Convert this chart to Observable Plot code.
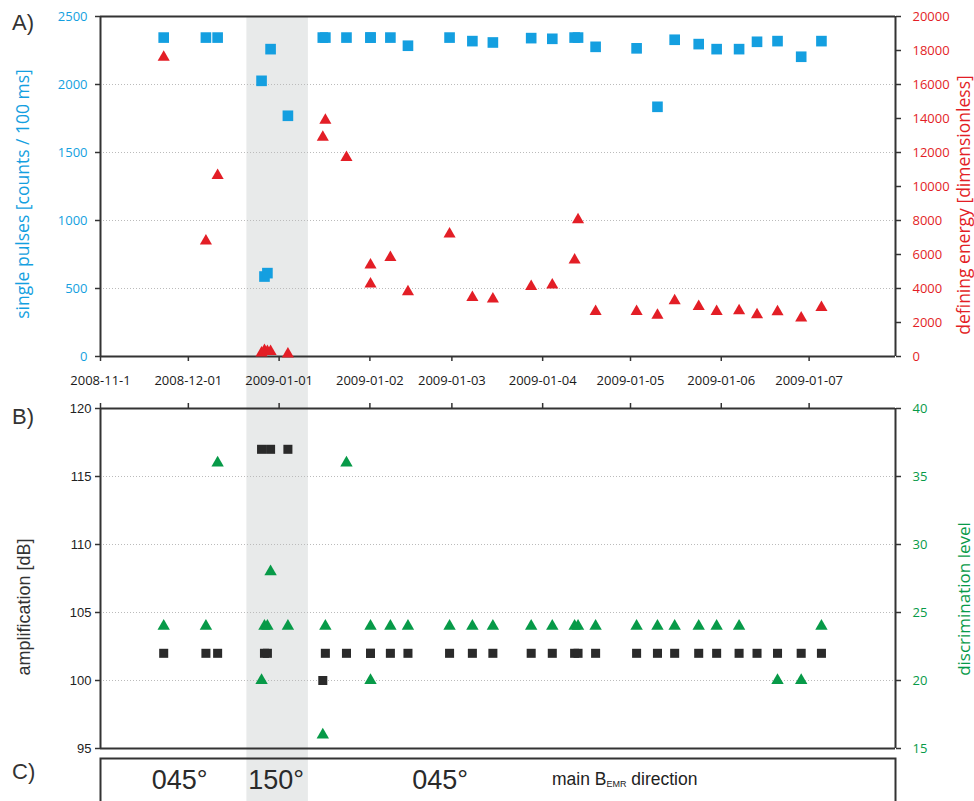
<!DOCTYPE html>
<html><head><meta charset="utf-8">
<script src="https://cdn.jsdelivr.net/npm/d3@7"></script>
<script src="https://cdn.jsdelivr.net/npm/@observablehq/plot@0.6"></script>
<style>
body{margin:0;background:#fff;}
#wrap{position:relative;width:974px;height:801px;overflow:hidden;background:#fff;}
#wrap svg{position:absolute;left:0;}
.lab{position:absolute;white-space:nowrap;line-height:1;}
.rot{transform:translate(-50%,-50%) rotate(-90deg);}
.panel{font-family:'Liberation Sans',Arial,sans-serif;font-size:22px;color:#333;left:12px;}
</style></head><body><div id="wrap"></div>
<script>
// ---- data ----
const measureDates = [
  "2008-11-22T14:00Z","2008-12-07T00:00Z","2008-12-11T00:00Z","2008-12-26T00:00Z","2008-12-27T00:00Z",
  "2008-12-28T00:00Z","2008-12-29T02:00Z","2009-01-04T00:00Z","2009-01-15T22:00Z","2009-01-16T19:00Z",
  "2009-01-24T00:00Z","2009-02-01T05:00Z","2009-02-01T05:00Z","2009-02-08T00:00Z","2009-02-14T00:00Z",
  "2009-02-28T05:00Z","2009-03-08T00:00Z","2009-03-15T00:00Z","2009-03-28T02:00Z","2009-04-04T07:00Z",
  "2009-04-11T22:00Z","2009-04-13T02:00Z","2009-04-19T02:00Z","2009-05-03T02:00Z","2009-05-10T05:00Z",
  "2009-05-16T02:00Z","2009-05-24T07:00Z","2009-05-30T10:00Z","2009-06-07T02:00Z","2009-06-13T05:00Z",
  "2009-06-20T05:00Z","2009-06-28T07:00Z","2009-07-05T05:00Z"];
const singlePulses = [2345,2345,2345,2027,588,613,2260,1770,2345,2345,2345,2345,2345,2345,2285,2345,2319,2309,2341,2336,2345,2345,2277,2266,1836,2329,2297,2260,2260,2314,2319,2204,2319];
const definingEnergy = [17600,6800,10650,200,350,300,300,150,12900,13900,11700,5380,4260,5820,3810,7200,3470,3380,4120,4200,5670,8040,2650,2650,2430,3280,2940,2650,2690,2450,2630,2260,2880];
const amplification = [102,102,102,117,102,102,117,117,100,102,102,102,102,102,102,102,102,102,102,102,102,102,102,102,102,102,102,102,102,102,102,102,102];
const discrimination = [24,24,36,20,24,24,28,24,16,24,36,24,20,24,24,24,24,24,24,24,24,24,24,24,24,24,24,24,24,null,20,20,24];

const monthTicks = ["2008-11-01","2008-12-01","2009-01-01","2009-02-01","2009-03-01","2009-04-01","2009-05-01","2009-06-01","2009-07-01"];
const monthLabels = ["2008-11-1","2008-12-01","2009-01-01","2009-01-02","2009-01-03","2009-01-04","2009-01-05","2009-01-06","2009-01-07"];
const pulsesTicks = [0,500,1000,1500,2000,2500];
const energyTicks = [0,2000,4000,6000,8000,10000,12000,14000,16000,18000,20000];
const ampTicks = [95,100,105,110,115,120];
const discTicks = [15,20,25,30,35,40];
const bandPeriod = ["2008-12-21","2009-01-11"];
const directionLabels = ["045°","150°","045°"];
const directionDates = ["2008-11-28","2008-12-31","2009-02-25"];

// ---- build ----
const BLUE="#149fe0", RED="#e31e26", GREEN="#079a48", BLACK="#2a2a2a", AX="#333";
const rows = measureDates.map((d,i)=>({date:new Date(d), pulses:singlePulses[i], energy:definingEnergy[i], amp:amplification[i], disc:discrimination[i]}));
const tickDates = monthTicks.map(d=>new Date(d));
const fmt = d => monthLabels[tickDates.findIndex(t=>+t===+d)] ?? "";
const num = d => String(d);
const xDomain = [new Date("2008-11-01"), new Date("2009-07-30T12:00Z")];
const X = {type:"utc", domain:xDomain, axis:null};
const common = {width:974, marginLeft:100, marginRight:79};
const st = (font)=>({background:"transparent", fontFamily:font, fontSize:"13px", overflow:"visible"});
const OS = "'Open Sans', sans-serif", LS = "'Liberation Sans', Arial, sans-serif";
const wrap = document.getElementById("wrap");
function add(svg, top){ svg.style.top = top+"px"; wrap.appendChild(svg); }

// shaded band (background)
add(Plot.plot({...common, height:801, marginTop:16, marginBottom:0, x:X, y:{axis:null},
  style:st(OS),
  marks:[Plot.rect([bandPeriod], {x1:d=>new Date(d[0]), x2:d=>new Date(d[1]), fill:"#e8eaea"})]}), 0);

// Panel A - left scale
add(Plot.plot({...common, height:400, marginTop:16, marginBottom:44, x:X, y:{domain:[0,2500], axis:null},
  style:st(OS),
  marks:[
    Plot.ruleY(pulsesTicks.slice(1,-1), {stroke:"#bbb", strokeDasharray:"1,2"}),
    Plot.axisY({ticks:pulsesTicks, tickFormat:num, tickSize:5, tickPadding:8, stroke:AX, strokeWidth:1.5, fill:BLUE, label:null}),
    Plot.axisX({ticks:tickDates, tickFormat:fmt, tickSize:5, tickPadding:14, stroke:AX, strokeWidth:1.5, fill:"#1a1a1a", label:null}),
    Plot.ruleY([0,2500], {stroke:AX, strokeWidth:2}),
    Plot.ruleX([xDomain[0]], {stroke:AX, strokeWidth:2}),
    Plot.dot(rows, {x:"date", y:"pulses", symbol:"square", r:6, fill:BLUE})
  ]}), 0);

// Panel A - right scale
add(Plot.plot({...common, height:400, marginTop:16, marginBottom:44, x:X, y:{domain:[0,20000], axis:null},
  style:st(OS),
  marks:[
    Plot.axisY({anchor:"right", ticks:energyTicks, tickFormat:num, tickSize:5, tickPadding:12, stroke:AX, strokeWidth:1.5, fill:RED, label:null}),
    Plot.ruleX([xDomain[1]], {stroke:AX, strokeWidth:2}),
    Plot.dot(rows, {x:"date", y:"energy", symbol:"triangle", r:4.5, fill:RED})
  ]}), 0);

// Panel B - left scale
add(Plot.plot({...common, height:380, marginTop:18, marginBottom:22, x:X, y:{domain:[95,120], axis:null},
  style:st(LS),
  marks:[
    Plot.ruleY(ampTicks.slice(1,-1), {stroke:"#bbb", strokeDasharray:"1,2"}),
    Plot.axisY({ticks:ampTicks, tickFormat:num, tickSize:5, tickPadding:4, stroke:AX, strokeWidth:1.5, fill:"#222", label:null}),
    Plot.axisX({anchor:"top", ticks:tickDates, tickFormat:()=>"", tickSize:6, stroke:AX, strokeWidth:1.5, label:null}),
    Plot.ruleY([95,120], {stroke:AX, strokeWidth:2}),
    Plot.ruleX([xDomain[0]], {stroke:AX, strokeWidth:2}),
    Plot.dot(rows, {x:"date", y:"amp", symbol:"square", r:5.1, fill:BLACK})
  ]}), 390);

// Panel B - right scale
add(Plot.plot({...common, height:380, marginTop:18, marginBottom:22, x:X, y:{domain:[15,40], axis:null},
  style:st(OS),
  marks:[
    Plot.axisY({anchor:"right", ticks:discTicks, tickFormat:num, tickSize:5, tickPadding:12, stroke:AX, strokeWidth:1.5, fill:GREEN, label:null}),
    Plot.ruleX([xDomain[1]], {stroke:AX, strokeWidth:2}),
    Plot.dot(rows, {x:"date", y:"disc", symbol:"triangle", r:4.6, fill:GREEN})
  ]}), 390);

// Panel C
add(Plot.plot({...common, height:80, marginTop:8, marginBottom:0, x:X, y:{axis:null},
  style:st(LS),
  marks:[
    Plot.frame({stroke:AX, strokeWidth:2}),
    Plot.text(directionLabels, {x:(d,i)=>new Date(directionDates[i]), text:d=>d, frameAnchor:"top", lineAnchor:"middle", dy:22, fontSize:27, fill:"#2a2a2a"})
  ]}), 750);

// HTML labels
const html = `
<div class="lab panel" style="top:12px">A)</div>
<div class="lab panel" style="top:406px">B)</div>
<div class="lab panel" style="top:761px">C)</div>
<div class="lab rot" style="left:22px;top:194px;font:17.5px 'Open Sans';color:${BLUE}">single pulses [counts / 100 ms]</div>
<div class="lab rot" style="left:963px;top:205px;font:17.5px 'Open Sans';color:${RED}">defining energy [dimensionless]</div>
<div class="lab rot" style="left:24px;top:607px;font:18px 'Liberation Sans';color:#333">amplification [dB]</div>
<div class="lab rot" style="left:963px;top:599px;font:17px 'Open Sans';color:${GREEN}">discrimination level</div>
<div class="lab" style="left:552px;top:769px;font:17.5px 'Liberation Sans';color:#222">main B<sub style="font-size:9px;line-height:0;vertical-align:-2px">EMR</sub> direction</div>`;
wrap.insertAdjacentHTML("beforeend", html);
</script></body></html>
